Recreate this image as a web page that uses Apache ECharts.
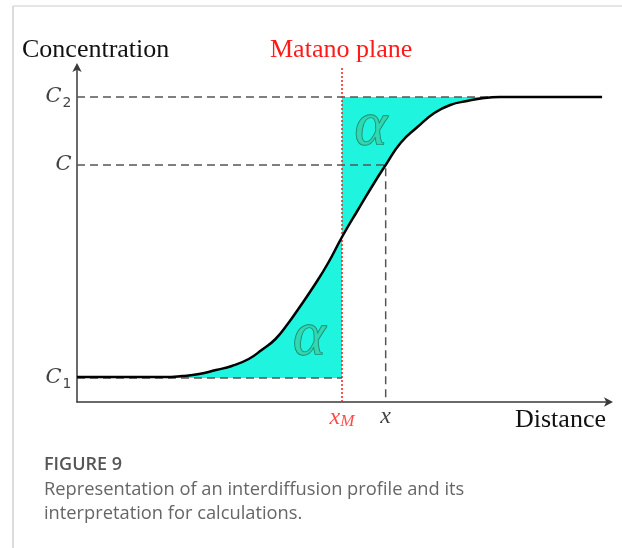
<!DOCTYPE html>
<html>
<head>
<meta charset="utf-8">
<script src="https://cdn.jsdelivr.net/npm/echarts@6/dist/echarts.min.js"></script>
<style>
  html, body { margin: 0; padding: 0; background: #ffffff; }
  #chart { width: 622px; height: 548px; }
</style>
</head>
<body>
<div id="chart"></div>
<script>
// Interdiffusion profile: concentration versus distance (arbitrary units)
const distance      = [0, 88, 106, 123, 140, 156, 173, 186, 200, 213, 223, 240, 253, 267, 283, 300, 311, 326, 343, 360, 376, 393, 410, 426, 529];
const concentration = [25, 25, 26, 28, 32, 36, 43, 52, 63, 79, 93, 118, 139, 165, 192, 220, 237, 259, 275, 289, 297, 301, 304, 305, 305];

// Reference levels and positions
const C1 = 24;
const C = 237;
const C2 = 305;
const xMatano = 267;
const xPoint = 311;
const xMax = 536;
const yMax = 335;

// Positions of the two equal-area "α" marks
const alphaMarks = [[296, 274], [234, 64]];

const profile = distance.map((d, i) => [d, concentration[i]]);
const iM = distance.indexOf(xMatano);
const iTop = concentration.indexOf(C2);
const leftArea = profile.slice(0, iM + 1);
const rightArea = profile.slice(iM, iTop + 1);

const FILL = '#1ff5de';
const DASH = '#555555';
const serif = 'Liberation Serif';
const SMOOTH = 0.5;

const chart = echarts.init(document.getElementById('chart'), null, { renderer: 'canvas' });

const levelRich = {
  c: { fontFamily: 'DejaVu Serif', fontStyle: 'italic', fontSize: 21, color: '#111' },
  s: { fontFamily: 'DejaVu Sans', fontSize: 14, color: '#111', padding: [12, 0, 0, 1] }
};

chart.setOption({
  backgroundColor: '#ffffff',
  animation: false,
  grid: { left: 77, right: 13, top: 67, bottom: 146 },
  xAxis: {
    type: 'value', min: 0, max: xMax,
    axisLine: { show: true, symbol: ['none', 'arrow'], symbolSize: [7, 9], symbolOffset: [0, 4],
      lineStyle: { color: '#3a3a3a', width: 1.5 } },
    axisTick: { show: false }, axisLabel: { show: false }, splitLine: { show: false }
  },
  yAxis: {
    type: 'value', min: 0, max: yMax,
    axisLine: { show: true, symbol: ['none', 'arrow'], symbolSize: [7, 9], symbolOffset: [0, 4],
      lineStyle: { color: '#3a3a3a', width: 1.5 } },
    axisTick: { show: false }, axisLabel: { show: false }, splitLine: { show: false }
  },
  graphic: [
    { type: 'line', shape: { x1: 13, y1: 6, x2: 622, y2: 6 }, style: { stroke: '#dcdcdc', lineWidth: 1.5 } },
    { type: 'line', shape: { x1: 13, y1: 6, x2: 13, y2: 548 }, style: { stroke: '#d0d0d0', lineWidth: 1.5 } },
    { type: 'text', left: 22, top: 37, style: { text: 'Concentration', font: '26px "Liberation Serif"', fill: '#111' } },
    { type: 'text', left: 270, top: 37, style: { text: 'Matano plane', font: '26px "Liberation Serif"', fill: '#ff1a1a' } },
    { type: 'text', left: 515, top: 407, style: { text: 'Distance', font: '26px "Liberation Serif"', fill: '#111' } },
    { type: 'text', left: 44, top: 456, style: { text: 'FIGURE 9', font: '600 18px "Open Sans"', fill: '#555' } },
    { type: 'text', left: 44, top: 481, style: { text: 'Representation of an interdiffusion profile and its', font: '18.3px "Open Sans"', fill: '#666' } },
    { type: 'text', left: 44, top: 505, style: { text: 'interpretation for calculations.', font: '18.3px "Open Sans"', fill: '#666' } }
  ],
  series: [
    // Area left of the Matano plane, between profile and C1
    {
      type: 'line', data: leftArea, smooth: SMOOTH, symbol: 'none',
      lineStyle: { width: 0, opacity: 0 },
      areaStyle: { color: FILL, opacity: 1, origin: C1 }, z: 1
    },
    // Area right of the Matano plane, between profile and C2
    {
      type: 'line', data: rightArea, smooth: SMOOTH, symbol: 'none',
      lineStyle: { width: 0, opacity: 0 },
      areaStyle: { color: FILL, opacity: 1, origin: C2 }, z: 1
    },
    // Dashed guide lines
    { type: 'line', data: [[0, C2], [529, C2]], symbol: 'none', lineStyle: { color: DASH, width: 1.5, type: [8, 5] }, z: 2 },
    { type: 'line', data: [[0, C], [xPoint, C], [xPoint, 0]], symbol: 'none', lineStyle: { color: DASH, width: 1.5, type: [8, 5] }, z: 2 },
    { type: 'line', data: [[0, C1], [xMatano, C1]], symbol: 'none', lineStyle: { color: DASH, width: 1.5, type: [8, 5] }, z: 2 },
    // Matano plane
    { type: 'line', data: [[xMatano, 0], [xMatano, yMax]], symbol: 'none', lineStyle: { color: '#ff1a1a', width: 1.5, type: [2, 2] }, z: 4 },
    // Concentration profile
    { type: 'line', data: profile, smooth: SMOOTH, symbol: 'none', lineStyle: { color: '#000', width: 2.5 }, z: 5 },
    // Level labels on the concentration axis
    {
      type: 'scatter', symbolSize: 1, itemStyle: { color: 'transparent' }, z: 6,
      data: [{ name: 'C2', value: [0, C2] }, { name: 'C', value: [0, C] }, { name: 'C1', value: [0, C1] }],
      label: {
        show: true, position: 'left', distance: 5,
        formatter: p => p.name.length > 1 ? '{c|C}{s|' + p.name.slice(1) + '}' : '{c|C}',
        rich: levelRich
      }
    },
    // Position labels on the distance axis
    {
      type: 'scatter', symbolSize: 1, itemStyle: { color: 'transparent' }, z: 6,
      data: [{ name: 'xM', value: [xMatano, 0] }, { name: 'x', value: [xPoint, 0] }],
      label: {
        show: true, position: 'bottom', distance: 2,
        formatter: p => p.name === 'xM' ? '{r|x}{rs|M}' : '{k|x}',
        rich: {
          r: { fontFamily: serif, fontStyle: 'italic', fontSize: 24, color: '#ff1a1a' },
          rs: { fontFamily: serif, fontStyle: 'italic', fontSize: 17, color: '#ff1a1a', padding: [9, 0, 0, 0] },
          k: { fontFamily: serif, fontStyle: 'italic', fontSize: 24, color: '#111' }
        }
      }
    },
    // α marks for the two equal areas
    {
      type: 'scatter', symbolSize: 1, itemStyle: { color: 'transparent' }, z: 6,
      data: alphaMarks,
      label: {
        show: true, position: 'inside', formatter: 'α',
        fontFamily: serif, fontStyle: 'italic', fontSize: 62, color: '#36d2a8',
        textBorderColor: '#17664f', textBorderWidth: 1.3
      }
    }
  ]
});
</script>
</body>
</html>
